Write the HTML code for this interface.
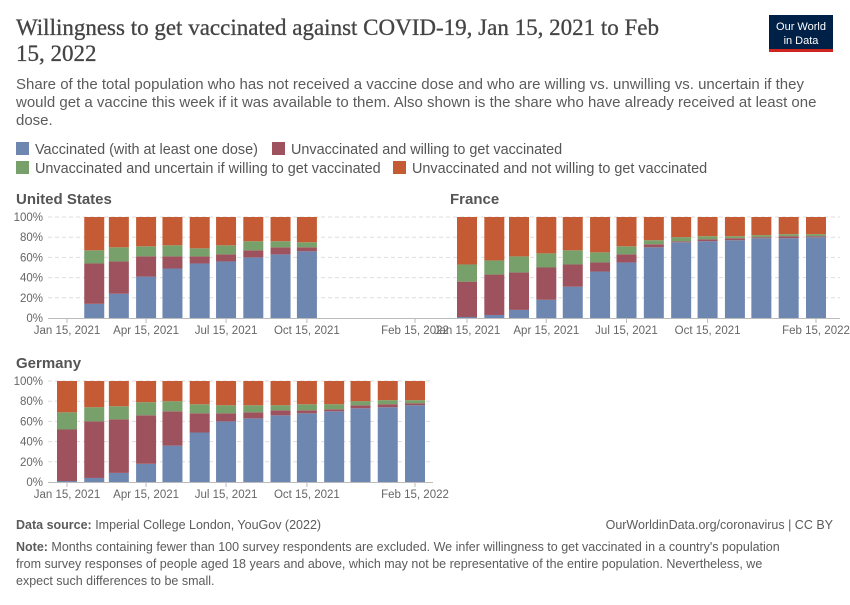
<!DOCTYPE html>
<html><head><meta charset="utf-8"><style>
body{margin:0;background:#fff;width:850px;height:600px;overflow:hidden;font-family:"Liberation Sans",sans-serif}
</style></head><body>
<svg id="c" width="850" height="600" xmlns="http://www.w3.org/2000/svg" style="font-family:'Liberation Sans',sans-serif">
<text x="16" y="35" style="font-family:'Liberation Serif',serif" font-size="23" fill="#444" stroke="#444" stroke-width="0.3">Willingness to get vaccinated against COVID-19, Jan 15, 2021 to Feb</text>
<text x="16" y="61" style="font-family:'Liberation Serif',serif" font-size="23" fill="#444" stroke="#444" stroke-width="0.3">15, 2022</text>
<g><rect x="769" y="15" width="64" height="37" fill="#002147"/><rect x="769" y="49" width="64" height="3" fill="#ce261e"/>
<text x="801" y="30" font-size="11" fill="#fff" text-anchor="middle">Our World</text><text x="801" y="44" font-size="11" fill="#fff" text-anchor="middle">in Data</text></g>
<g font-size="15" fill="#5b5b5b">
<text x="16" y="89">Share of the total population who has not received a vaccine dose and who are willing vs. unwilling vs. uncertain if they</text>
<text x="16" y="107">would get a vaccine this week if it was available to them. Also shown is the share who have already received at least one</text>
<text x="16" y="125">dose.</text></g>
<g font-size="14.4" fill="#555">
<g><rect x="16" y="142" width="13" height="13" fill="#6e87b0"/><text x="35" y="154">Vaccinated (with at least one dose)</text></g>
<g><rect x="272" y="142" width="13" height="13" fill="#9e525e"/><text x="291" y="154">Unvaccinated and willing to get vaccinated</text></g>
<g><rect x="16" y="161" width="13" height="13" fill="#77a06b"/><text x="35" y="173">Unvaccinated and uncertain if willing to get vaccinated</text></g>
<g><rect x="393" y="161" width="13" height="13" fill="#c55b35"/><text x="412" y="173">Unvaccinated and not willing to get vaccinated</text></g>
</g>
<g id="panels"></g>
<g font-size="12.5" fill="#5b5b5b">
<text x="16" y="529"><tspan font-weight="bold">Data source:</tspan> Imperial College London, YouGov (2022)</text>
<text x="833" y="529" text-anchor="end">OurWorldinData.org/coronavirus | CC BY</text>
<text x="16" y="551"><tspan font-weight="bold">Note:</tspan> Months containing fewer than 100 survey respondents are excluded. We infer willingness to get vaccinated in a country's population</text>
<text x="16" y="568">from survey responses of people aged 18 years and above, which may not be representative of the entire population. Nevertheless, we</text>
<text x="16" y="585">expect such differences to be small.</text>
</g>
</svg>
<script>
const months=["2021-01","2021-02","2021-03","2021-04","2021-05","2021-06","2021-07","2021-08","2021-09","2021-10","2021-11","2021-12","2022-01","2022-02"];
const tickLabels=["Jan 15, 2021","Apr 15, 2021","Jul 15, 2021","Oct 15, 2021","Feb 15, 2022"];
const tickDates=["2021-01-15","2021-04-15","2021-07-15","2021-10-15","2022-02-15"];
const yTicks=[0,20,40,60,80,100];
const usMonths=months.slice(1,10);
const usVax=[14,24,41,49,54,56,60,63,66];
const usWilling=[40,32,20,12,7,7,7,7,4];
const usUncertain=[13,14,10,11,8,9,9,6,5];
const frVax=[1,3,8,18,31,46,55,70,75,76,77,79,79,80];
const frWilling=[35,40,37,32,22,9,8,3,1,2,2,1,2,1];
const frUncertain=[17,14,16,14,14,10,8,4,4,3,2,2,2,2];
const deVax=[1,4,9,18,36,49,60,63,66,68,70,73,74,76];
const deWilling=[51,56,53,48,34,19,8,6,5,3,2,3,3,2];
const deUncertain=[17,14,13,13,10,9,8,7,5,6,5,4,4,3];
const NS="http://www.w3.org/2000/svg";
const root=document.getElementById("panels");
function el(t,a,p){const e=document.createElementNS(NS,t);for(const k in a)e.setAttribute(k,a[k]);(p||root).appendChild(e);return e;}
const t0=Date.parse("2021-01-15");
function panel(name,title,x0,x1,xJan,xFeb,yTop,yBot,showY,mons,vax,wil,unc){
  const g=el("g",{});
  
  
  const pxDay=(xFeb-xJan)/396;
  const X=d=>xJan+(Date.parse(d)-t0)/864e5*pxDay;
  const Y=v=>yBot-(yBot-yTop)*v/100;
  const tt=el("text",{x:showY?16:450,y:yTop-13,"font-size":15,"font-weight":"bold",fill:"#555"},g);tt.textContent=title;
  
  
  yTicks.forEach(v=>{
    if(v>0){const l=el("line",{x1:x0,x2:x1,y1:Y(v),y2:Y(v),stroke:"#ddd","stroke-dasharray":"4,3"},g);
    
    }
    if(showY){const t=el("text",{x:43,y:Y(v)+4,"font-size":11.5,fill:"#666","text-anchor":"end"},g);t.textContent=v+"%";
    
    }
  });
  const cols=["#6e87b0","#9e525e","#77a06b","#c55b35"];
  mons.forEach((m,i)=>{
    const cx=X(m+"-15");
    const vals=[vax[i],wil[i],unc[i],100-vax[i]-wil[i]-unc[i]];
    let acc=0;
    vals.forEach((v,k)=>{
      const r=el("rect",{x:cx-10,y:Y(acc+v),width:20,height:Y(acc)-Y(acc+v),fill:cols[k]},g);
      
      
      acc+=v;
    });
  });
  const ax=el("line",{x1:x0,x2:x1,y1:yBot+0.5,y2:yBot+0.5,stroke:"#bbb"},g);
  
  
  tickDates.forEach((d,i)=>{
    const x=X(d);
    el("line",{x1:x,x2:x,y1:yBot,y2:yBot+5,stroke:"#bbb"},g);
    const t=el("text",{x:x,y:yBot+16,"font-size":11.5,fill:"#666","text-anchor":"middle"},g);t.textContent=tickLabels[i];
    
    
  });
}
panel("panel-united-states","United States",48,433,67,415,217,318,true,usMonths,usVax,usWilling,usUncertain);
panel("panel-france","France",432,840,467,816,217,318,false,months,frVax,frWilling,frUncertain);
panel("panel-germany","Germany",48,433,67,415,381,482,true,months,deVax,deWilling,deUncertain);
</script>
</body></html>
